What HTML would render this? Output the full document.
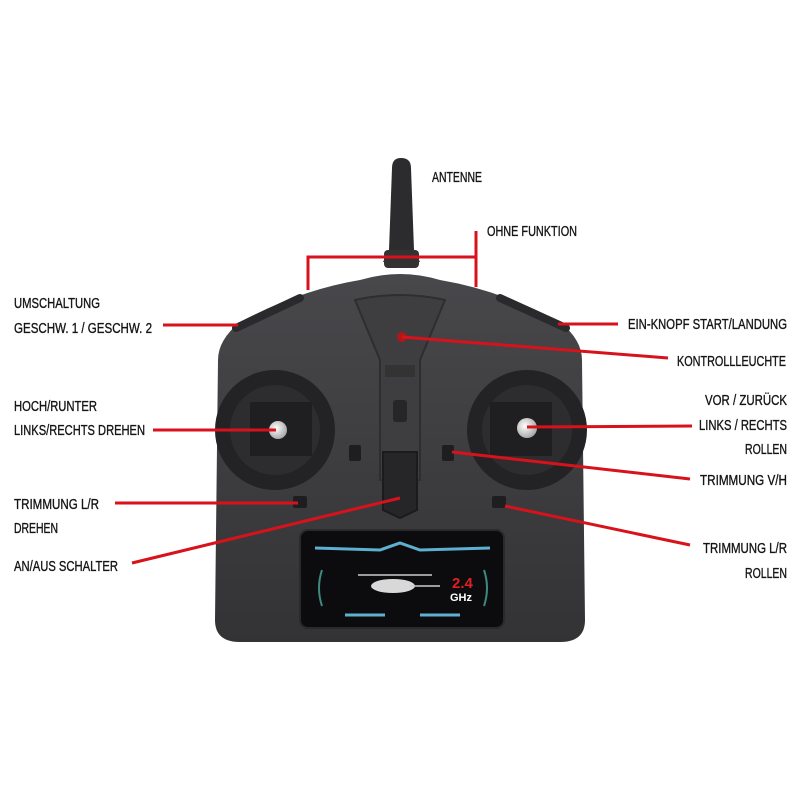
<!DOCTYPE html>
<html><head><meta charset="utf-8"><style>
html,body{margin:0;padding:0;background:#fff;}
svg{display:block;}
text{font-family:"Liberation Sans",sans-serif;font-size:14.5px;fill:#151515;stroke:#151515;stroke-width:0.35;}
</style></head><body>
<svg width="800" height="800" viewBox="0 0 800 800" xmlns="http://www.w3.org/2000/svg">
<defs>
<linearGradient id="bg" x1="0" y1="0" x2="0" y2="1">
<stop offset="0" stop-color="#48484b"/><stop offset="1" stop-color="#333335"/>
</linearGradient>
<radialGradient id="knob" cx="0.4" cy="0.4" r="0.6"><stop offset="0" stop-color="#fff"/><stop offset="1" stop-color="#aaa"/></radialGradient>
</defs>
<path d="M392,168 Q392,158 401,158 Q411,158 411,168 L414,250 L420,262 L383,262 L389,250 Z" fill="#2c2c2e"/>
<rect x="384" y="250" width="35" height="18" rx="4" fill="#333"/>
<path d="M218,360 Q218,340 240,322 Q300,290 360,280 Q400,268 440,280 Q500,290 560,322 Q582,340 582,360 L585,620 Q585,642 560,642 L240,642 Q215,642 215,620 Z" fill="url(#bg)"/>
<path d="M236,328 L300,298 M500,298 L566,328" stroke="#2a2a2c" stroke-width="8" stroke-linecap="round"/>
<path d="M355,300 Q400,290 445,300 L420,360 L420,480 L380,480 L380,360 Z" fill="#3e3e41" stroke="#2e2e30" stroke-width="2"/>
<rect x="385" y="365" width="30" height="12" fill="#333"/>
<rect x="393" y="400" width="14" height="22" rx="3" fill="#262628"/>
<circle cx="275" cy="430" r="60" fill="#232325"/>
<circle cx="275" cy="430" r="45" fill="#2d2d2f"/>
<rect x="250" y="402" width="62" height="54" fill="#1f1f21"/>
<circle cx="278" cy="430" r="9" fill="url(#knob)"/>
<circle cx="527" cy="430" r="60" fill="#232325"/>
<circle cx="527" cy="430" r="45" fill="#2d2d2f"/>
<rect x="490" y="402" width="62" height="54" fill="#1f1f21"/>
<circle cx="527" cy="428" r="10" fill="url(#knob)"/>
<rect x="349" y="445" width="12" height="16" rx="2" fill="#1e1e20"/>
<rect x="442" y="445" width="12" height="16" rx="2" fill="#1e1e20"/>
<rect x="293" y="496" width="14" height="12" rx="2" fill="#1e1e20"/>
<rect x="492" y="496" width="14" height="12" rx="2" fill="#1e1e20"/>
<path d="M383,452 L417,452 L417,510 L400,518 L383,510 Z" fill="#262628" stroke="#1b1b1d" stroke-width="2"/>
<rect x="300" y="530" width="204" height="98" rx="8" fill="#0c0c0e" stroke="#2a2a2c" stroke-width="2"/>
<path d="M315,548 L380,550 L400,543 L420,550 L490,548" stroke="#5fb0d0" stroke-width="3" fill="none"/>
<path d="M345,615 L385,615 M420,615 L460,615" stroke="#5fb0d0" stroke-width="3"/>
<path d="M322,570 Q316,588 322,606 M484,570 Q490,588 484,606" stroke="#3c8a80" stroke-width="2" fill="none"/>
<line x1="358" y1="575" x2="432" y2="575" stroke="#ccc" stroke-width="1.5"/>
<ellipse cx="393" cy="586" rx="22" ry="7" fill="#d8d8d8"/>
<line x1="410" y1="586" x2="440" y2="586" stroke="#ccc" stroke-width="1.5"/>
<text x="452" y="588" style="font-size:15px;font-weight:bold;fill:#e02020;stroke:none">2.4</text>
<text x="450" y="601" style="font-size:11px;font-weight:bold;fill:#fff;stroke:none">GHz</text>
<circle cx="402" cy="337" r="5" fill="#b01818"/>
<g stroke="#d8121b" stroke-width="3" fill="none">
<path d="M308,290 L308,257 L476,257"/>
<line x1="476" y1="231" x2="476" y2="287"/>
<line x1="163" y1="325" x2="238" y2="325"/>
<line x1="558" y1="324" x2="618" y2="324"/>
<line x1="402" y1="337" x2="668" y2="358"/>
<line x1="153" y1="430" x2="276" y2="430"/>
<line x1="527" y1="427" x2="692" y2="426"/>
<line x1="452" y1="452" x2="690" y2="479"/>
<line x1="115" y1="503" x2="298" y2="503"/>
<line x1="132" y1="563" x2="400" y2="498"/>
<line x1="505" y1="506" x2="690" y2="545"/>
</g>
<text x="432" y="182" textLength="50" lengthAdjust="spacingAndGlyphs">ANTENNE</text>
<text x="487" y="236" textLength="90" lengthAdjust="spacingAndGlyphs">OHNE FUNKTION</text>
<text x="14" y="308" textLength="86" lengthAdjust="spacingAndGlyphs">UMSCHALTUNG</text>
<text x="14" y="333" textLength="138" lengthAdjust="spacingAndGlyphs">GESCHW. 1 / GESCHW. 2</text>
<text x="628" y="329" textLength="159" lengthAdjust="spacingAndGlyphs">EIN-KNOPF START/LANDUNG</text>
<text x="677" y="366" textLength="109" lengthAdjust="spacingAndGlyphs">KONTROLLLEUCHTE</text>
<text x="14" y="411" textLength="83" lengthAdjust="spacingAndGlyphs">HOCH/RUNTER</text>
<text x="14" y="435" textLength="131" lengthAdjust="spacingAndGlyphs">LINKS/RECHTS DREHEN</text>
<text x="705" y="405" textLength="82" lengthAdjust="spacingAndGlyphs">VOR / ZURÜCK</text>
<text x="699" y="430" textLength="88" lengthAdjust="spacingAndGlyphs">LINKS / RECHTS</text>
<text x="745" y="454" textLength="42" lengthAdjust="spacingAndGlyphs">ROLLEN</text>
<text x="700" y="485" textLength="87" lengthAdjust="spacingAndGlyphs">TRIMMUNG V/H</text>
<text x="14" y="509" textLength="85" lengthAdjust="spacingAndGlyphs">TRIMMUNG L/R</text>
<text x="14" y="533" textLength="44" lengthAdjust="spacingAndGlyphs">DREHEN</text>
<text x="14" y="571" textLength="104" lengthAdjust="spacingAndGlyphs">AN/AUS SCHALTER</text>
<text x="703" y="553" textLength="84" lengthAdjust="spacingAndGlyphs">TRIMMUNG L/R</text>
<text x="745" y="578" textLength="42" lengthAdjust="spacingAndGlyphs">ROLLEN</text>
</svg>
</body></html>
